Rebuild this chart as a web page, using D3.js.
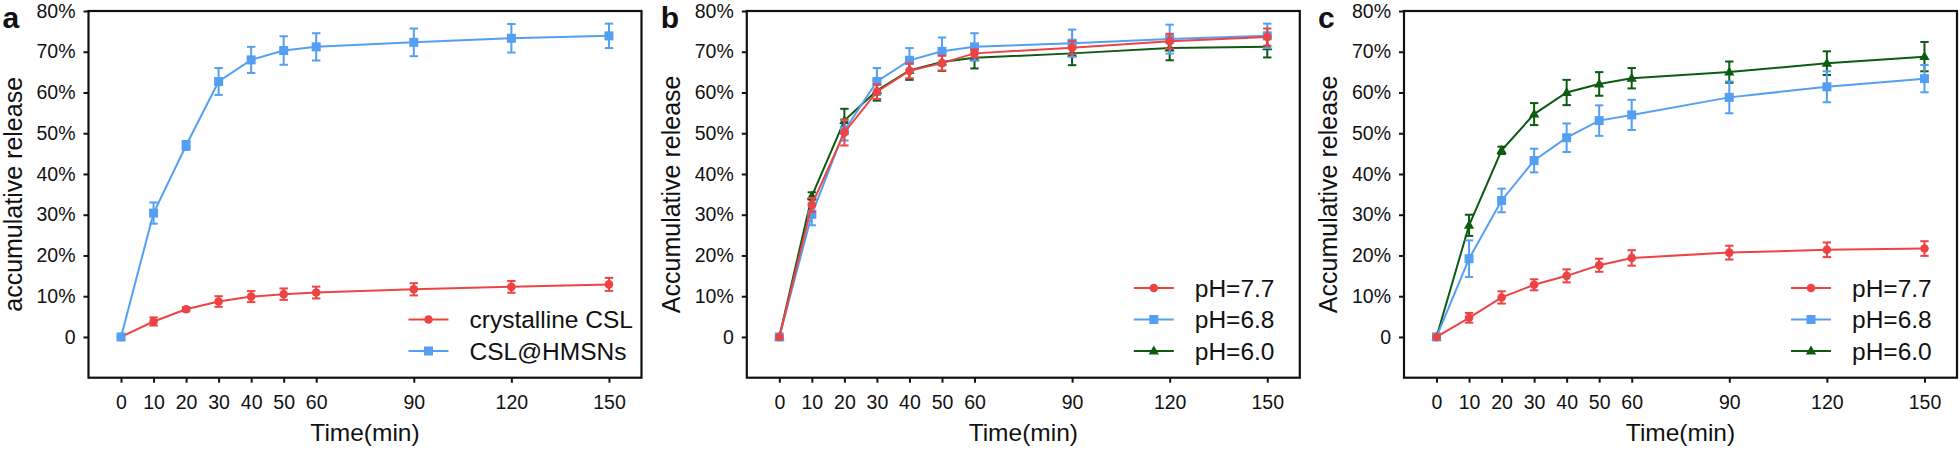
<!DOCTYPE html>
<html>
<head>
<meta charset="utf-8">
<script src="https://cdn.jsdelivr.net/npm/d3@7"></script>
<style>
  html, body { margin: 0; padding: 0; background: #fff; }
  svg { display: block; font-family: "Liberation Sans", Arial, sans-serif; }
</style>
</head>
<body>
<svg id="chart" width="1960" height="451"></svg>
<script>
// ---------- data ----------
const times = [0, 10, 20, 30, 40, 50, 60, 90, 120, 150];
const xTickLabels = ["0", "10", "20", "30", "40", "50", "60", "90", "120", "150"];
const yTicks = [0, 10, 20, 30, 40, 50, 60, 70, 80];
const yTickLabels = ["0", "10%", "20%", "30%", "40%", "50%", "60%", "70%", "80%"];

// panel a
const aCrystalline = [0, 3.8, 6.8, 8.7, 9.9, 10.5, 10.9, 11.7, 12.3, 12.9];
const aCrystallineErr = [0.3, 1.0, 0.5, 1.3, 1.35, 1.4, 1.45, 1.5, 1.45, 1.6];
const aHMSN = [0, 30.4, 47.0, 62.7, 68.0, 70.3, 71.2, 72.3, 73.3, 73.9];
const aHMSNErr = [0.3, 2.6, 1.1, 3.3, 3.2, 3.5, 3.35, 3.4, 3.5, 3.0];

// panel b
const bPH77 = [0, 32.4, 50.2, 60.2, 65.3, 67.2, 69.6, 71.0, 72.6, 73.6];
const bPH77Err = [0.3, 1.7, 3.2, 1.8, 1.8, 1.8, 1.0, 1.6, 1.8, 2.1];
const bPH68 = [0, 30.1, 50.7, 62.7, 67.9, 70.1, 71.2, 72.1, 73.1, 73.9];
const bPH68Err = [0.3, 2.7, 2.5, 3.3, 3.0, 3.4, 3.35, 3.35, 3.55, 3.0];
const bPH60 = [0, 34.6, 53.1, 60.5, 65.4, 67.5, 68.5, 69.6, 70.9, 71.2];
const bPH60Err = [0.3, 0.9, 2.9, 2.5, 2.3, 2.2, 2.6, 2.9, 3.0, 2.6];

// panel c
const cPH77 = [0, 4.7, 9.7, 12.8, 15.0, 17.6, 19.4, 20.7, 21.4, 21.7];
const cPH77Err = [0.3, 1.2, 1.5, 1.35, 1.6, 1.6, 1.9, 1.7, 1.8, 1.8];
const cPH68 = [0, 19.2, 33.5, 43.3, 48.9, 53.1, 54.5, 58.8, 61.4, 63.4];
const cPH68Err = [0.3, 4.5, 2.9, 2.9, 3.5, 3.75, 3.7, 3.9, 3.8, 3.35];
const cPH60 = [0, 27.4, 45.8, 54.7, 60.0, 62.1, 63.5, 65.0, 67.2, 68.8];
const cPH60Err = [0.3, 2.6, 0.9, 2.7, 3.1, 2.9, 2.5, 2.6, 2.9, 3.6];

const RED = "#ee4343", BLUE = "#549ff2", GREEN = "#0d5a12";

const panels = [
  { letter: "a", ytitle: "accumulative release",
    series: [
      { name: "crystalline CSL", values: aCrystalline, err: aCrystallineErr, color: RED, marker: "circle" },
      { name: "CSL@HMSNs", values: aHMSN, err: aHMSNErr, color: BLUE, marker: "square" }
    ], drawOrder: [0, 1], legendX: -233 },
  { letter: "b", ytitle: "Accumulative release",
    series: [
      { name: "pH=7.7", values: bPH77, err: bPH77Err, color: RED, marker: "circle" },
      { name: "pH=6.8", values: bPH68, err: bPH68Err, color: BLUE, marker: "square" },
      { name: "pH=6.0", values: bPH60, err: bPH60Err, color: GREEN, marker: "triangle" }
    ], drawOrder: [2, 1, 0], legendX: -166 },
  { letter: "c", ytitle: "Accumulative release",
    series: [
      { name: "pH=7.7", values: cPH77, err: cPH77Err, color: RED, marker: "circle" },
      { name: "pH=6.8", values: cPH68, err: cPH68Err, color: BLUE, marker: "square" },
      { name: "pH=6.0", values: cPH60, err: cPH60Err, color: GREEN, marker: "triangle" }
    ], drawOrder: [2, 1, 0], legendX: -166 }
];

// ---------- layout ----------
const panelLeft = [88.5, 746.8, 1404];
const panelW = 553;
const plotTop = 11, plotBottom = 377.7;

const svg = d3.select("#chart");

function drawMarker(g, type, cx, cy, color) {
  if (type === "circle") {
    g.append("circle").attr("cx", cx).attr("cy", cy).attr("r", 4.3).attr("fill", color);
  } else if (type === "square") {
    g.append("rect").attr("x", cx - 4.5).attr("y", cy - 4.5).attr("width", 9).attr("height", 9).attr("fill", color);
  } else {
    g.append("path").attr("d", d3.symbol().type(d3.symbolTriangle).size(46)()).attr("transform", `translate(${cx},${cy + 0.5})`).attr("fill", color);
  }
}

panels.forEach((p, i) => {
  const L = panelLeft[i], R = L + panelW;
  const x = d3.scaleLinear().domain([-10, 160]).range([L, R]);
  const y = d3.scaleLinear().domain([-10, 80]).range([plotBottom, plotTop]);
  const g = svg.append("g");

  // frame
  g.append("rect").attr("x", L).attr("y", plotTop).attr("width", R - L).attr("height", plotBottom - plotTop)
    .attr("fill", "none").attr("stroke", "#111").attr("stroke-width", 2.2);

  // axes
  const xAxis = d3.axisBottom(x).tickValues(times).tickFormat((d, k) => xTickLabels[k])
    .tickSizeInner(5).tickSizeOuter(0).tickPadding(12);
  const gx = g.append("g").attr("transform", `translate(0,${plotBottom})`).call(xAxis);
  gx.select(".domain").remove();
  gx.selectAll("line").attr("stroke", "#111").attr("stroke-width", 2);
  gx.selectAll("text").attr("font-size", 19.5).attr("fill", "#111").attr("font-family", "Liberation Sans, Arial, sans-serif");

  const yAxis = d3.axisLeft(y).tickValues(yTicks).tickFormat((d, k) => yTickLabels[k])
    .tickSizeInner(5).tickSizeOuter(0).tickPadding(8);
  const gy = g.append("g").attr("transform", `translate(${L},0)`).call(yAxis);
  gy.select(".domain").remove();
  gy.selectAll("line").attr("stroke", "#111").attr("stroke-width", 2);
  gy.selectAll("text").attr("font-size", 19.5).attr("fill", "#111").attr("font-family", "Liberation Sans, Arial, sans-serif");

  // titles
  g.append("text").attr("x", (L + R) / 2).attr("y", 441).attr("text-anchor", "middle")
    .attr("font-size", 24.5).attr("fill", "#111").text("Time(min)");
  g.append("text").attr("transform", `translate(${L - 67},${(plotTop + plotBottom) / 2}) rotate(-90)`)
    .attr("text-anchor", "middle").attr("font-size", 25).attr("fill", "#111").text(p.ytitle);
  g.append("text").attr("x", L - 86).attr("y", 28).attr("font-size", 30).attr("font-weight", "bold")
    .attr("fill", "#111").text(p.letter);

  // series
  const line = d3.line().x((d, k) => x(times[k])).y(d => y(d));
  p.drawOrder.forEach(si => {
    const s = p.series[si];
    const sg = g.append("g");
    sg.append("path").attr("d", line(s.values)).attr("fill", "none").attr("stroke", s.color).attr("stroke-width", 2);
    s.values.forEach((v, k) => {
      const cx = x(times[k]);
      const e = s.err[k];
      if (k > 0) {
        const y1 = y(v + e), y2 = y(v - e);
        sg.append("line").attr("x1", cx).attr("x2", cx).attr("y1", y1).attr("y2", y2).attr("stroke", s.color).attr("stroke-width", 2);
        sg.append("line").attr("x1", cx - 4.2).attr("x2", cx + 4.2).attr("y1", y1).attr("y2", y1).attr("stroke", s.color).attr("stroke-width", 2);
        sg.append("line").attr("x1", cx - 4.2).attr("x2", cx + 4.2).attr("y1", y2).attr("y2", y2).attr("stroke", s.color).attr("stroke-width", 2);
      }
      drawMarker(sg, s.marker, cx, y(v), s.color);
    });
  });

  // legend
  const n = p.series.length;
  const rowGap = 31.5;
  const lastRowY = 351;
  p.series.forEach((s, k) => {
    const ly = lastRowY - (n - 1 - k) * rowGap;
    const lx0 = R + p.legendX, lx1 = lx0 + 40;
    g.append("line").attr("x1", lx0).attr("x2", lx1).attr("y1", ly).attr("y2", ly).attr("stroke", s.color).attr("stroke-width", 2);
    drawMarker(g, s.marker, (lx0 + lx1) / 2, ly, s.color);
    g.append("text").attr("x", lx1 + 21).attr("y", ly).attr("dy", "0.36em").attr("font-size", 24.5)
      .attr("fill", "#111").text(s.name);
  });
});
</script>
</body>
</html>
